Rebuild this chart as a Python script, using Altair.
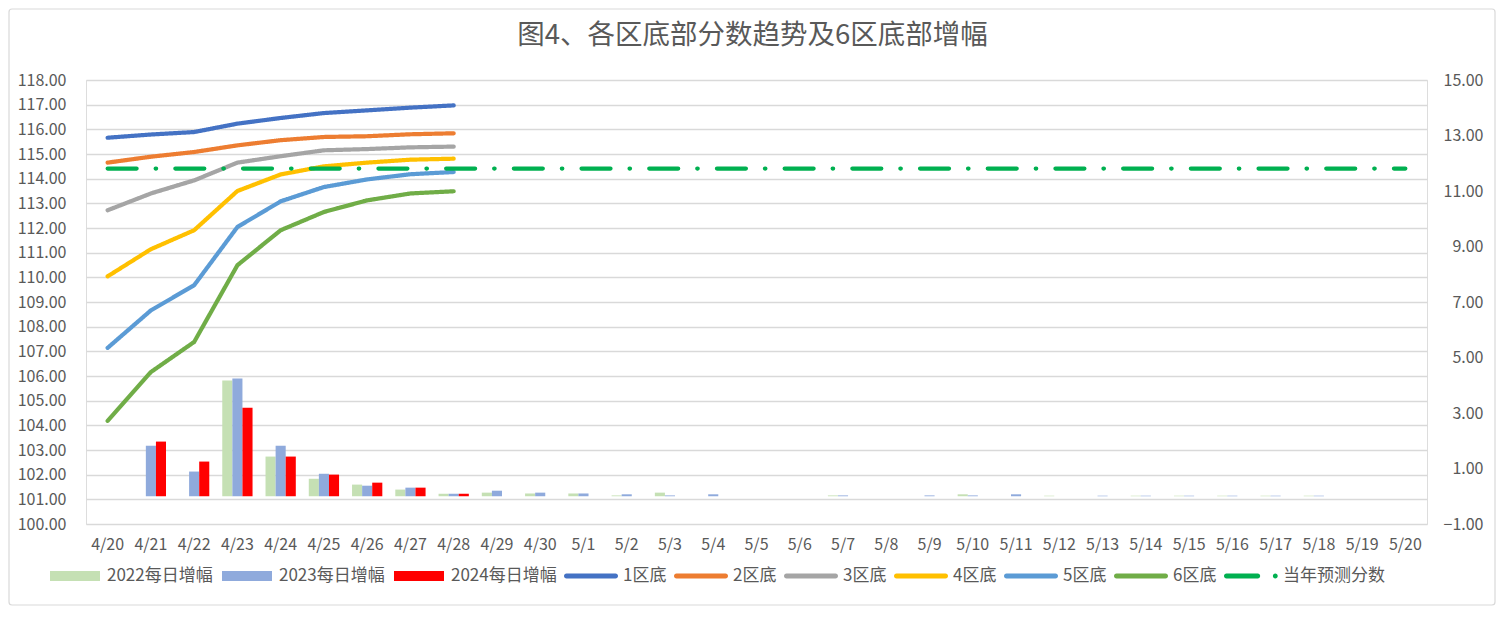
import altair as alt
import pandas as pd

# ---------------- data ----------------
dates = ["4/20", "4/21", "4/22", "4/23", "4/24", "4/25", "4/26", "4/27", "4/28", "4/29", "4/30",
         "5/1", "5/2", "5/3", "5/4", "5/5", "5/6", "5/7", "5/8", "5/9", "5/10",
         "5/11", "5/12", "5/13", "5/14", "5/15", "5/16", "5/17", "5/18", "5/19", "5/20"]

line_dates = dates[:9]
zone1 = [115.66, 115.79, 115.89, 116.23, 116.46, 116.66, 116.77, 116.88, 116.97]
zone2 = [114.65, 114.89, 115.08, 115.35, 115.56, 115.69, 115.72, 115.80, 115.84]
zone3 = [112.72, 113.40, 113.93, 114.65, 114.91, 115.15, 115.20, 115.27, 115.30]
zone4 = [110.04, 111.14, 111.91, 113.50, 114.17, 114.50, 114.65, 114.77, 114.81]
zone5 = [107.14, 108.66, 109.68, 112.04, 113.08, 113.66, 113.97, 114.18, 114.27]
zone6 = [104.18, 106.16, 107.38, 110.49, 111.91, 112.65, 113.12, 113.40, 113.49]
predicted = 114.41

inc2022 = [None, None, None, 4.17, 1.43, 0.63, 0.42, 0.24, 0.09, 0.13, 0.10,
           0.10, 0.03, 0.13, None, None, None, 0.03, None, None, 0.07,
           None, 0.02, None, 0.02, 0.02, 0.02, 0.02, 0.02, None, None]
inc2023 = [None, 1.82, 0.89, 4.24, 1.82, 0.81, 0.38, 0.31, 0.09, 0.20, 0.13,
           0.10, 0.07, 0.03, 0.07, None, None, 0.03, None, 0.03, 0.03,
           0.07, None, 0.02, 0.02, 0.02, 0.02, 0.02, 0.02, None, None]
inc2024 = [None, 1.97, 1.25, 3.19, 1.43, 0.78, 0.49, 0.31, 0.09, None, None,
           None, None, None, None, None, None, None, None, None, None,
           None, None, None, None, None, None, None, None, None, None]

bar_names = ["2022每日增幅", "2023每日增幅", "2024每日增幅"]
zone_names = ["1区底", "2区底", "3区底", "4区底", "5区底", "6区底"]
pred_name = "当年预测分数"
all_names = bar_names + zone_names + [pred_name]
colors = ["#c5e0b4", "#8faadc", "#ff0000",
          "#4472c4", "#ed7d31", "#a5a5a5", "#ffc000", "#5b9bd5", "#70ad47",
          "#00b050"]

title_text = "图4、各区底部分数趋势及6区底部增幅"
left_ticks = list(range(100, 119))
right_ticks = [-1, 1, 3, 5, 7, 9, 11, 13, 15]

# ---------------- tables ----------------
bar_rows = []
for name, vals in zip(bar_names, [inc2022, inc2023, inc2024]):
    for d, v in zip(dates, vals):
        if v is not None:
            bar_rows.append({"date": d, "series": name, "value": v})
bar_df = pd.DataFrame(bar_rows)

line_rows = []
for name, vals in zip(zone_names, [zone1, zone2, zone3, zone4, zone5, zone6]):
    for d, v in zip(line_dates, vals):
        line_rows.append({"date": d, "series": name, "value": v})
for d in dates:
    line_rows.append({"date": d, "series": pred_name, "value": predicted})
line_df = pd.DataFrame(line_rows)

legend_df = pd.DataFrame({"series": all_names})

# ---------------- styling ----------------
FONT = "Noto Sans CJK SC"
TXT = "#595959"
GRID = "#d9d9d9"
W, H = 1341, 444

bar_shape = "M-0.926,-0.185H0.926V0.185H-0.926Z"
line_shape = ("M-0.91,-0.09H0.91A0.09,0.09 0 0 1 0.91,0.09H-0.91"
              "A0.09,0.09 0 0 1 -0.91,-0.09Z")
pred_shape = ("M-0.91,-0.09H0.25A0.09,0.09 0 0 1 0.25,0.09H-0.91"
              "A0.09,0.09 0 0 1 -0.91,-0.09Z"
              "M0.81,0A0.09,0.09 0 1 0 0.99,0A0.09,0.09 0 1 0 0.81,0Z")
shapes = [bar_shape] * 3 + [line_shape] * 6 + [pred_shape]

color_scale = alt.Scale(domain=all_names, range=colors)

x_enc = alt.X(
    "date:N", sort=dates,
    scale=alt.Scale(domain=dates, paddingInner=0.3, paddingOuter=0.15),
    axis=alt.Axis(title=None, labelAngle=0, ticks=False, domain=False,
                  labelPadding=12, labelFontSize=16, labelColor=TXT, labelFont=FONT),
)

legend_props = dict(
    title=None, orient="none", legendX=-38, legendY=469, direction="horizontal",
    labelFontSize=17, labelColor=TXT, labelFont=FONT, labelLimit=300,
    symbolSize=2916, symbolStrokeWidth=0, labelOffset=5, columnPadding=7,
)

# legend layer first so that its (enabled) legend wins the merge
legend_pts = alt.Chart(legend_df).mark_point(filled=True, opacity=1).encode(
    color=alt.Color("series:N", scale=color_scale, legend=alt.Legend(**legend_props)),
    shape=alt.Shape("series:N", scale=alt.Scale(domain=all_names, range=shapes),
                    legend=alt.Legend(**legend_props)),
).transform_filter("false")

bars = alt.Chart(bar_df).mark_bar().encode(
    x=x_enc,
    xOffset=alt.XOffset("series:N", sort=bar_names,
                        scale=alt.Scale(domain=bar_names, paddingInner=0, paddingOuter=0)),
    y=alt.Y("value:Q", scale=alt.Scale(domain=[-1, 15], nice=False),
            axis=alt.Axis(orient="right", values=right_ticks, format=".2f", title=None,
                          grid=False, domain=False, ticks=False, labelAlign="right",
                          labelPadding=56, labelFontSize=16, labelColor=TXT, labelFont=FONT)),
    color=alt.Color("series:N", scale=color_scale, legend=None),
)

dash_domain = zone_names + [pred_name]
dash_range = [[1, 0]] * 6 + [[29, 19, 0.5, 19.2]]

lines = alt.Chart(line_df).mark_line(strokeWidth=4.2, strokeCap="round", strokeJoin="round").encode(
    x=x_enc,
    y=alt.Y("value:Q", scale=alt.Scale(domain=[100, 118], nice=False, zero=False),
            axis=alt.Axis(orient="left", values=left_ticks, format=".2f", title=None,
                          grid=True, gridColor=GRID, gridWidth=1.3, domain=False, ticks=False,
                          labelPadding=20, labelFontSize=16, labelColor=TXT, labelFont=FONT)),
    color=alt.Color("series:N", scale=color_scale, legend=None),
    strokeDash=alt.StrokeDash("series:N", scale=alt.Scale(domain=dash_domain, range=dash_range),
                              legend=None),
)

border = alt.Chart(pd.DataFrame({"k": [0]})).mark_rect(
    fill=None, stroke=GRID, strokeWidth=1.2, cornerRadius=3
).encode(
    x=alt.value(-77), x2=alt.value(W + 68), y=alt.value(-71), y2=alt.value(H + 81)
)

chart = alt.layer(
    legend_pts, bars, lines, border
).resolve_scale(
    y="independent"
).properties(
    width=W, height=H,
    autosize=alt.AutoSizeParams(type="none"),
    padding={"left": 78, "top": 72, "right": 69, "bottom": 82},
    title=alt.TitleParams(title_text, fontSize=27.5, font=FONT, color=TXT, fontWeight="normal",
                          anchor="middle", frame="group", baseline="middle", offset=-55,
                          dx=-4),
).configure_view(
    stroke=None
).configure(
    background="white"
)

chart.save("out.html", embed_options={"renderer": "svg", "actions": False})
